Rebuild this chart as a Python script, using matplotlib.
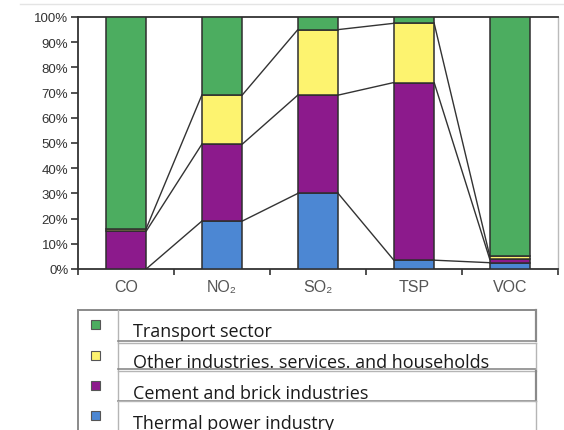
import matplotlib
matplotlib.use("Agg")
import matplotlib.pyplot as plt
from matplotlib.patches import Rectangle
from matplotlib.lines import Line2D
import numpy as np

categories = ["CO", "NO\u2082", "SO\u2082", "TSP", "VOC"]
series_names = ["Thermal power industry", "Cement and brick industries",
                "Other industries. services. and households", "Transport sector"]
thermal = [0.0, 19.0, 30.0, 3.5, 2.5]
cement = [15.0, 30.5, 39.0, 70.5, 1.3]
other = [1.0, 19.5, 26.0, 23.5, 1.2]
transport = [84.0, 31.0, 5.0, 2.5, 95.0]
y_ticks = [0, 10, 20, 30, 40, 50, 60, 70, 80, 90, 100]

colors = ["#4c87d3", "#8c1a8c", "#fdf36f", "#4cad60"]
series = [thermal, cement, other, transport]

W, H = 564, 431
fig = plt.figure(figsize=(W / 100, H / 100), dpi=100)


def fx(px):
    return px / W


def fy(py):
    return 1 - py / H


ax = fig.add_axes([fx(78), fy(270), fx(558) - fx(78), fy(18) - fy(270)])

x = np.arange(len(categories))
bw = 0.42
bottom = np.zeros(len(categories))
cum_levels = []
for vals, col in zip(series, colors):
    vals = np.array(vals)
    ax.bar(x, vals, bw, bottom=bottom, color=col, edgecolor="#2e2e2e",
           linewidth=1.1, zorder=3)
    bottom = bottom + vals
    cum_levels.append(bottom.copy())

# series lines joining the stacked boundaries of neighbouring columns
for level in cum_levels[:3]:
    for i in range(len(categories) - 1):
        ax.plot([x[i] + bw / 2, x[i + 1] - bw / 2], [level[i], level[i + 1]],
                color="#333333", lw=1.0, zorder=2, solid_capstyle="butt")

ax.set_xlim(-0.5, len(categories) - 0.5)
ax.set_ylim(0, 100)
ax.set_yticks(y_ticks)
ax.set_yticklabels([f"{t}%" for t in y_ticks], fontsize=9.5,
                   family=["Liberation Sans", "DejaVu Sans"], color="#333333")
ax.set_xticks(x)
ax.set_xticklabels(categories, fontsize=11.5,
                   family=["Liberation Sans", "DejaVu Sans"], color="#555555")
ax.set_xticks(np.arange(-0.5, len(categories), 1.0), minor=True)
ax.tick_params(axis="x", which="major", length=0, pad=7)
ax.tick_params(axis="x", which="minor", length=4, width=1.2, color="#333333",
               direction="out")
ax.tick_params(axis="y", length=5, width=1.2, color="#333333", pad=2)

for side in ["left", "bottom", "top"]:
    ax.spines[side].set_color("#333333")
    ax.spines[side].set_linewidth(1.3)
ax.spines["right"].set_color("#bbbbbb")
ax.spines["right"].set_linewidth(1.0)

# faint frame line above the plot
fig.add_artist(Line2D([fx(20), fx(564)], [fy(5), fy(5)], color="#e4e4e4", lw=1.0))

# legend table
grey = "#8a8a8a"
light = "#b5b5b5"


def hline(x0, x1, y, c=grey, lw=1.0):
    fig.add_artist(Line2D([fx(x0), fx(x1)], [fy(y), fy(y)], color=c, lw=lw))


def vline(xp, y0, y1, c=grey, lw=1.0):
    fig.add_artist(Line2D([fx(xp), fx(xp)], [fy(y0), fy(y1)], color=c, lw=lw))


hline(78, 536, 311, lw=1.4)
vline(78, 311, 431, lw=1.4)
vline(118, 342, 431, c=light)
vline(118, 311, 342, c=light)
rows = [(311, 342), (344, 370), (372, 402), (402, 431)]
for k, (y0, y1) in enumerate(rows):
    if k > 0:
        hline(118, 536, y0, c=light)
    if y1 < 431:
        hline(118, 536, y1, c=grey, lw=1.2)
    vline(536, y0, y1, c=grey if k % 2 == 0 else light, lw=1.6 if k % 2 == 0 else 1.0)

legend_order = [3, 2, 1, 0]
marker_y = [325, 356, 386, 416]
text_base = [337, 368, 399, 429]
for k, s in enumerate(legend_order):
    fig.add_artist(Rectangle((fx(90.5), fy(marker_y[k] + 4.5)), fx(9), fy(0) - fy(9),
                             facecolor=colors[s], edgecolor="#555555", lw=0.8))
    fig.text(fx(133), fy(text_base[k]), series_names[s], fontsize=13,
             family=["Open Sans", "DejaVu Sans"], color="#1a1a1a",
             ha="left", va="baseline")

fig.savefig("out.png", dpi=100, facecolor="white")
